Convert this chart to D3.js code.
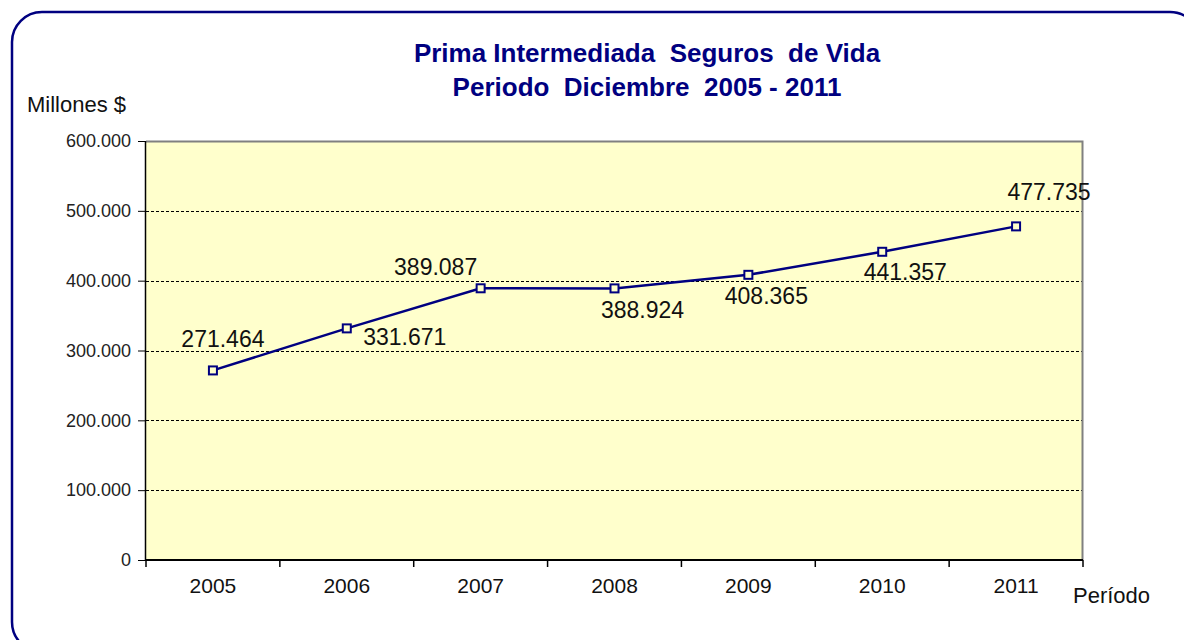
<!DOCTYPE html>
<html>
<head>
<meta charset="utf-8">
<script src="https://cdn.jsdelivr.net/npm/d3@7"></script>
<style>
  body { margin: 0; background: #fff; }
  svg { display: block; font-family: "Liberation Sans", Arial, sans-serif; }
</style>
</head>
<body>
<svg id="chart"></svg>
<script>
// data
const years = ['2005', '2006', '2007', '2008', '2009', '2010', '2011'];
const prima = [271464, 331671, 389087, 388924, 408365, 441357, 477735];
const yTicks = [0, 100000, 200000, 300000, 400000, 500000, 600000];
// hand placed value labels, [dx, dy] from the point
const labelOffsets = [[10, -23], [58, 17], [-45, -13], [28, 30], [18, 29], [23, 28], [33, -26]];

const width = 1184, height = 640;
const margin = { top: 141, right: 101, bottom: 80, left: 146 };
const innerW = width - margin.left - margin.right;
const innerH = height - margin.top - margin.bottom;

const svg = d3.select('#chart')
    .attr('width', width)
    .attr('height', height);

// outer frame (runs off the page at right and bottom)
svg.append('rect')
    .attr('x', 12)
    .attr('y', 12)
    .attr('width', 1188)
    .attr('height', 640)
    .attr('rx', 30)
    .attr('ry', 30)
    .attr('fill', 'none')
    .attr('stroke', '#000080')
    .attr('stroke-width', 2.5);

const fmt = v => d3.format(',')(v).replace(/,/g, '.');

const x = d3.scaleBand().domain(years).range([0, innerW]);
const y = d3.scaleLinear().domain([0, 600000]).range([innerH, 0]);

const g = svg.append('g')
    .attr('transform', `translate(${margin.left},${margin.top})`);

g.append('rect')
    .attr('width', innerW)
    .attr('height', innerH)
    .attr('fill', '#ffffcc');

// gridlines
g.selectAll('.grid')
    .data(yTicks.filter(t => t > 0 && t < 600000))
  .join('line')
    .attr('class', 'grid')
    .attr('x1', 0)
    .attr('x2', innerW)
    .attr('y1', d => Math.round(y(d)) + 0.5)
    .attr('y2', d => Math.round(y(d)) + 0.5)
    .attr('stroke', '#000')
    .attr('stroke-width', 1)
    .attr('stroke-dasharray', '3,2');

// top + right border (grey)
g.append('path')
    .attr('d', `M0,0.5H${innerW - 0.5}V${innerH}`)
    .attr('fill', 'none')
    .attr('stroke', '#808080')
    .attr('stroke-width', 2);

// y axis
const yAxis = g.append('g')
    .call(d3.axisLeft(y).tickValues(yTicks).tickFormat(fmt).tickSize(8).tickPadding(7));
yAxis.select('.domain').attr('stroke', '#000').attr('stroke-width', 1.5).attr('d', `M-0.5,0V${innerH}`);
yAxis.selectAll('.tick line').attr('stroke', '#000');
yAxis.selectAll('.tick text')
    .attr('font-size', 18)
    .attr('fill', '#222')
    .attr('font-family', '"Liberation Sans", Arial, sans-serif');

// x axis, ticks sit on band edges
const xAxis = g.append('g')
    .attr('transform', `translate(0,${innerH})`);
xAxis.append('line')
    .attr('x1', 0).attr('x2', innerW)
    .attr('stroke', '#000').attr('stroke-width', 2);
xAxis.selectAll('.xtick')
    .data(years.concat(['end']))
  .join('line')
    .attr('class', 'xtick')
    .attr('x1', (d, i) => i < years.length ? x(d) : innerW)
    .attr('x2', (d, i) => i < years.length ? x(d) : innerW)
    .attr('y1', 0)
    .attr('y2', 7)
    .attr('stroke', '#000')
    .attr('stroke-width', 1.5);
xAxis.selectAll('.xlabel')
    .data(years)
  .join('text')
    .attr('class', 'xlabel')
    .attr('x', d => x(d) + x.bandwidth() / 2)
    .attr('y', 33)
    .attr('text-anchor', 'middle')
    .attr('font-size', 21)
    .attr('fill', '#111')
    .text(d => d);

// line
const line = d3.line()
    .x((d, i) => x(years[i]) + x.bandwidth() / 2)
    .y(d => y(d));

g.append('path')
    .datum(prima)
    .attr('d', line)
    .attr('fill', 'none')
    .attr('stroke', '#000080')
    .attr('stroke-width', 2.5);

g.selectAll('.marker')
    .data(prima)
  .join('rect')
    .attr('class', 'marker')
    .attr('x', (d, i) => x(years[i]) + x.bandwidth() / 2 - 4)
    .attr('y', d => y(d) - 4)
    .attr('width', 8)
    .attr('height', 8)
    .attr('fill', '#ffffcc')
    .attr('stroke', '#000080')
    .attr('stroke-width', 2);

g.selectAll('.value')
    .data(prima)
  .join('text')
    .attr('class', 'value')
    .attr('x', (d, i) => x(years[i]) + x.bandwidth() / 2 + labelOffsets[i][0])
    .attr('y', (d, i) => y(d) + labelOffsets[i][1])
    .attr('text-anchor', 'middle')
    .attr('font-size', 23)
    .attr('fill', '#111')
    .text(fmt);

// titles
svg.append('text')
    .attr('x', 647)
    .attr('y', 62)
    .attr('text-anchor', 'middle')
    .attr('font-size', 26)
    .attr('font-weight', 'bold')
    .attr('fill', '#000080')
    .style('white-space', 'pre')
    .text('Prima Intermediada  Seguros  de Vida');

svg.append('text')
    .attr('x', 647)
    .attr('y', 96)
    .attr('text-anchor', 'middle')
    .attr('font-size', 26)
    .attr('font-weight', 'bold')
    .attr('fill', '#000080')
    .style('white-space', 'pre')
    .text('Periodo  Diciembre  2005 - 2011');

svg.append('text')
    .attr('x', 27)
    .attr('y', 112)
    .attr('font-size', 22)
    .attr('fill', '#111')
    .text('Millones $');

svg.append('text')
    .attr('x', 1073)
    .attr('y', 603)
    .attr('font-size', 22)
    .attr('fill', '#111')
    .text('Período');
</script>
</body>
</html>
